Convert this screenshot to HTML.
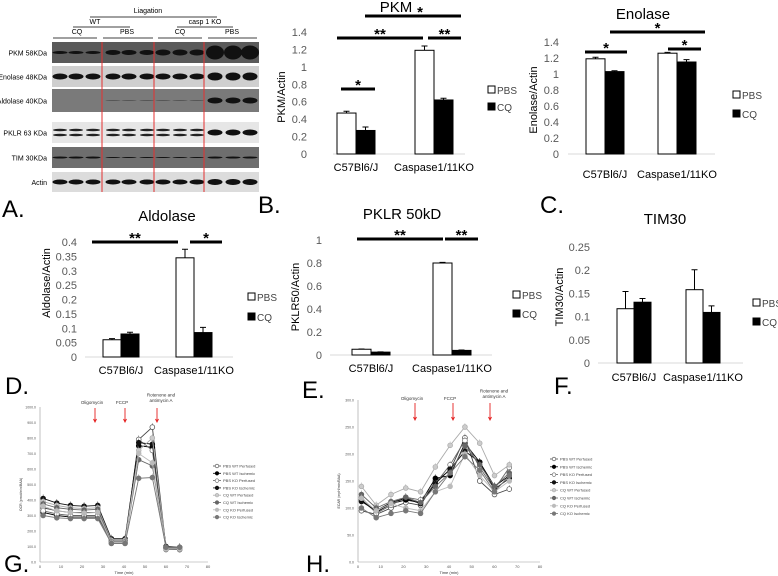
<!DOCTYPE html>
<html><head><meta charset="utf-8"><style>
html,body{margin:0;padding:0;background:#fff;}
svg{display:block;font-family:"Liberation Sans",sans-serif;}
</style></head><body>
<svg id="fig" width="778" height="576" viewBox="0 0 778 576" xmlns="http://www.w3.org/2000/svg">
<g id="blot"></g>
<g id="bars"></g>
<g id="lines"></g>
<g font-size="24" fill="#000">
<text x="2" y="217">A.</text>
<text x="258" y="213">B.</text>
<text x="540" y="213">C.</text>
<text x="5" y="394">D.</text>
<text x="302" y="398">E.</text>
<text x="554" y="394">F.</text>
<text x="4" y="572">G.</text>
<text x="306" y="572">H.</text>
</g>
</svg>
<script>
const NS="http://www.w3.org/2000/svg";
function mk(parent,tag,attrs,txt){const e=document.createElementNS(NS,tag);for(const k in attrs)e.setAttribute(k,attrs[k]);if(txt!==undefined)e.textContent=txt;parent.appendChild(e);return e;}

// ---------- Bar chart data ----------
const barCategories=["C57Bl6/J","Caspase1/11KO"];
const legendLabels=["PBS","CQ"];
const pkmPBS=[0.47,1.19], pkmCQ=[0.27,0.62], pkmErrPBS=[0.02,0.05], pkmErrCQ=[0.04,0.02];
const pkmTicks=["0","0.2","0.4","0.6","0.8","1","1.2","1.4"];
const enoPBS=[1.19,1.26], enoCQ=[1.03,1.15], enoErrPBS=[0.02,0.01], enoErrCQ=[0.01,0.03];
const enoTicks=["0","0.2","0.4","0.6","0.8","1","1.2","1.4"];
const aldPBS=[0.06,0.345], aldCQ=[0.08,0.085], aldErrPBS=[0.004,0.03], aldErrCQ=[0.006,0.018];
const aldTicks=["0","0.05","0.1","0.15","0.2","0.25","0.3","0.35","0.4"];
const pklrPBS=[0.05,0.8], pklrCQ=[0.025,0.04], pklrErrPBS=[0.002,0.005], pklrErrCQ=[0.002,0.004];
const pklrTicks=["0","0.2","0.4","0.6","0.8","1"];
const timPBS=[0.117,0.158], timCQ=[0.131,0.109], timErrPBS=[0.037,0.043], timErrCQ=[0.008,0.014];
const timTicks=["0","0.05","0.1","0.15","0.2","0.25"];

const barCfg=[
 {name:"pkm",title:"PKM",ytitle:"PKM/Actin",pbs:pkmPBS,cq:pkmCQ,ep:pkmErrPBS,ec:pkmErrCQ,ticks:pkmTicks,max:1.4,
  y0:154,y1:32,ax0:333,ax1:465,lblX:307,ytX:285,ytY:97,bx:[337,415],bw:19,titleX:396,titleY:12,catY:171,legX:488,legY:[90,107],
  sig:[[365,461,16,"*",7],[337,423,38,"**",0],[428,461,38,"**",0],[341,375,89,"*",0]]},
 {name:"enolase",title:"Enolase",ytitle:"Enolase/Actin",pbs:enoPBS,cq:enoCQ,ep:enoErrPBS,ec:enoErrCQ,ticks:enoTicks,max:1.4,
  y0:154,y1:42,ax0:568,ax1:715,lblX:559,ytX:537,ytY:100,bx:[586,658],bw:19,titleX:643,titleY:19,catY:178,legX:733,legY:[95,114],
  sig:[[610,705,32,"*",0],[585,627,52,"*",0],[668,701,49,"*",0]]},
 {name:"aldolase",title:"Aldolase",ytitle:"Aldolase/Actin",pbs:aldPBS,cq:aldCQ,ep:aldErrPBS,ec:aldErrCQ,ticks:aldTicks,max:0.4,
  y0:357,y1:242,ax0:85,ax1:233,lblX:77,ytX:50,ytY:283,bx:[103,176],bw:18,titleX:167,titleY:221,catY:374,legX:248,legY:[297,317],
  sig:[[92,178,242,"**",0],[190,222,242,"*",0]]},
 {name:"pklr",title:"PKLR 50kD",ytitle:"PKLR50/Actin",pbs:pklrPBS,cq:pklrCQ,ep:pklrErrPBS,ec:pklrErrCQ,ticks:pklrTicks,max:1,
  y0:355,y1:240,ax0:330,ax1:492,lblX:322,ytX:299,ytY:297,bx:[352,433],bw:19,titleX:402,titleY:219,catY:372,legX:513,legY:[295,314],
  sig:[[357,443,239,"**",0],[445,478,239,"**",0]]},
 {name:"tim30",title:"TIM30",ytitle:"TIM30/Actin",pbs:timPBS,cq:timCQ,ep:timErrPBS,ec:timErrCQ,ticks:timTicks,max:0.25,
  y0:363,y1:247,ax0:598,ax1:743,lblX:590,ytX:563,ytY:297,bx:[617,686],bw:17,titleX:665,titleY:224,catY:381,legX:753,legY:[303,322],
  sig:[]}
];

const barsG=document.getElementById("bars");
barCfg.forEach(c=>{
 const g=mk(barsG,"g",{});
 
 
 const y=v=>c.y0-(v/c.max)*(c.y0-c.y1);
 const t=mk(g,"text",{x:c.titleX,y:c.titleY,"font-size":15,"text-anchor":"middle",fill:"#000"},c.title);
 
 
 c.ticks.forEach((lab,i)=>{
  const v=c.max*i/(c.ticks.length-1);
  const tl=mk(g,"text",{x:c.lblX,y:y(v)+4,"font-size":11,"text-anchor":"end",fill:"#595959"},lab);
  
  
 });
 const yt=mk(g,"text",{x:c.ytX,y:c.ytY,"font-size":11,"text-anchor":"middle",fill:"#000",transform:`rotate(-90 ${c.ytX} ${c.ytY})`},c.ytitle);
 
 
 const ax=mk(g,"line",{x1:c.ax0,x2:c.ax1,y1:c.y0,y2:c.y0,stroke:"#d9d9d9","stroke-width":1});
 
 
 barCategories.forEach((cat,i)=>{
  const x=c.bx[i];
  [[c.pbs[i],c.ep[i],"#fff",0],[c.cq[i],c.ec[i],"#000",1]].forEach(([v,e,fill,k])=>{
   const bx=x+k*c.bw;
   const r=mk(g,"rect",{x:bx,y:y(v),width:c.bw,height:c.y0-y(v),fill:fill,stroke:"#000","stroke-width":1});
   
   
   const cx=bx+c.bw/2;
   const eb=mk(g,"path",{d:`M${cx},${y(v)}V${y(v+e)}M${cx-3},${y(v+e)}H${cx+3}`,stroke:"#000","stroke-width":1,fill:"none"});
   
   
  });
  const cl=mk(g,"text",{x:x+c.bw,y:c.catY,"font-size":11,"text-anchor":"middle",fill:"#000"},cat);
  
  
 });
 legendLabels.forEach((lab,k)=>{
  const ly=c.legY[k];
  const sq=mk(g,"rect",{x:c.legX,y:ly-4,width:7,height:7,fill:k?"#000":"#fff",stroke:"#000","stroke-width":1});
  
  
  const lt=mk(g,"text",{x:c.legX+9,y:ly+4,"font-size":10,fill:"#444"},lab);
  
  
 });
 c.sig.forEach(([x1,x2,sy,s,dx])=>{
  const sl=mk(g,"line",{x1:x1,x2:x2,y1:sy,y2:sy,stroke:"#000","stroke-width":3});
  
  
  const st=mk(g,"text",{x:(x1+x2)/2+dx,y:sy+1,"font-size":15,"font-weight":"bold","text-anchor":"middle",fill:"#000"},s);
  
  
 });
});

// ---------- Western blot ----------
const blotRows=["PKM 58KDa","Enolase 48KDa","Aldolase 40KDa","PKLR 63 KDa","TIM 30KDa","Actin"];
const blotG=document.getElementById("blot");
const rowsY=[[42,63,"#5a5a5a"],[66,87,"#cfcfcf"],[89,112,"#7a7a7a"],[122,143,"#e6e6e6"],[147,168,"#6e6e6e"],[172,192,"#dcdcdc"]];
const laneX=[60,76,93,113,129,147,163,180,197,215,233,250];
const bandH=[[3,3,3,5,5,5,6,6,6,14,14,14],[6,6,6,6,6,6,6,6,6,8,8,8],[0,0,0,1,1,1,1,1,1,6,6,6],[3,3,3,4,4,4,4,4,4,6,6,6],[2,2,2,1,1,1,1,1,1,2,2,2],[5,5,5,5,5,5,5,5,5,6,6,6]];
rowsY.forEach(([a,b,bg],i)=>{
 const r=mk(blotG,"rect",{x:52,y:a,width:207,height:b-a,fill:bg});
 
 
 const l=mk(blotG,"text",{x:47,y:(a+b)/2+3,"font-size":7,"text-anchor":"end",fill:"#000"},blotRows[i]);
 
 
 laneX.forEach((x,j)=>{
  const h=bandH[i][j]; if(!h)return;
  const cy=(a+b)/2;
  if(i===3&&j<9){
   [-2.5,2.5].forEach(d=>{const e=mk(blotG,"ellipse",{cx:x,cy:cy+d,rx:7,ry:1.3,fill:"#222"});});
  } else {
   const e=mk(blotG,"ellipse",{cx:x,cy:cy,rx:h>10?9:7.5,ry:h/2,fill:i===2&&h<3?"#555":"#111"});
   
   
  }
 });
});
[102,154,204].forEach(x=>{const l=mk(blotG,"line",{x1:x,x2:x,y1:42,y2:192,stroke:"#e53030","stroke-width":1});});
const hdr=[["Liagation",148,13,90,217,17],["WT",95,24,73,130,27],["casp 1 KO",205,24,177,233,27],["CQ",77,34,53,97,38],["PBS",127,34,103,153,38],["CQ",180,34,158,202,38],["PBS",232,34,208,257,38]];
hdr.forEach(([t,tx,ty,x1,x2,ly])=>{
 const tt=mk(blotG,"text",{x:tx,y:ty,"font-size":7,"text-anchor":"middle",fill:"#000"},t);
 
 
 const ll=mk(blotG,"line",{x1:x1,x2:x2,y1:ly,y2:ly,stroke:"#000","stroke-width":0.7});
 
 
});

// ---------- Line chart data ----------
const timePoints=[1.5,8,14.5,21,27.5,34,40.5,47,53.5,60,66.5];
const seriesNames=["PBS WT Perfused","PBS WT Ischemic","PBS KO Perfused","PBS KO Ischemic","CQ WT Perfused","CQ WT Ischemic","CQ KO Perfused","CQ KO Ischemic"];
const ocrPbsWtPerf=[350,330,320,320,320,130,130,790,870,90,80];
const ocrPbsWtIsch=[320,300,290,290,290,140,140,750,740,90,90];
const ocrPbsKoPerf=[330,310,300,300,300,120,120,790,720,80,80];
const ocrPbsKoIsch=[410,380,365,360,365,150,150,770,760,100,95];
const ocrCqWtPerf=[390,365,350,345,350,140,140,720,800,90,90];
const ocrCqWtIsch=[375,350,340,335,340,130,130,660,620,90,90];
const ocrCqKoPerf=[360,330,320,315,320,125,125,700,640,85,85];
const ocrCqKoIsch=[300,285,280,280,280,120,120,540,545,95,95];
const ecarPbsWtPerf=[95,88,100,110,105,150,170,230,150,125,135];
const ecarPbsWtIsch=[115,92,108,115,110,155,160,220,185,140,160];
const ecarPbsKoPerf=[120,90,105,120,115,145,180,225,175,135,175];
const ecarPbsKoIsch=[112,95,110,118,108,145,172,205,185,135,155];
const ecarCqWtPerf=[140,105,125,137,130,176,216,250,220,160,180];
const ecarCqWtIsch=[125,100,112,120,110,140,165,215,180,140,165];
const ecarCqKoPerf=[118,95,108,100,95,130,140,200,160,130,150];
const ecarCqKoIsch=[100,82,90,95,90,130,165,195,170,130,160];
const ocrTicks=["0.0","100.0","200.0","300.0","400.0","500.0","600.0","700.0","800.0","900.0","1000.0"];
const ecarTicks=["0.0","50.0","100.0","150.0","200.0","250.0","300.0"];
const timeTicks=["0","10","20","30","40","50","60","70","80"];

const styles=[["#444","#fff"],["#000","#000"],["#666","#fff"],["#111","#111"],["#aaa","#ccc"],["#666","#666"],["#bbb","#bbb"],["#777","#777"]];
const lineCfg=[
 {name:"ocr",data:[ocrPbsWtPerf,ocrPbsWtIsch,ocrPbsKoPerf,ocrPbsKoIsch,ocrCqWtPerf,ocrCqWtIsch,ocrCqKoPerf,ocrCqKoIsch],ticks:ocrTicks,max:1000,
  x0:40,x1:208,y0:562,y1:407,ytitle:"OCR (pmol/min/BAA)",ytX:22,arrows:[[95,"Oligomycin"],[125,"FCCP"],[157,"Rotenone and|antimycin A"]],arrowY:[408,422],labY:404,legX:213,legY:466,legStep:7.3},
 {name:"ecar",data:[ecarPbsWtPerf,ecarPbsWtIsch,ecarPbsKoPerf,ecarPbsKoIsch,ecarCqWtPerf,ecarCqWtIsch,ecarCqKoPerf,ecarCqKoIsch],ticks:ecarTicks,max:300,
  x0:358,x1:540,y0:562,y1:400,ytitle:"ECAR (mpH/min/BAA)",ytX:340,arrows:[[415,"Oligomycin"],[453,"FCCP"],[490,"Rotenone and|antimycin A"]],arrowY:[403,420],labY:400,legX:550,legY:459,legStep:7.8}
];
const linesG=document.getElementById("lines");
lineCfg.forEach(c=>{
 const g=mk(linesG,"g",{});
 
 
 const X=t=>c.x0+t/80*(c.x1-c.x0);
 const Y=v=>c.y0-v/c.max*(c.y0-c.y1);
 const ya=mk(g,"line",{x1:c.x0,x2:c.x0,y1:c.y1,y2:c.y0,stroke:"#999","stroke-width":0.6});
 
 
 const xa=mk(g,"line",{x1:c.x0,x2:c.x1,y1:c.y0,y2:c.y0,stroke:"#999","stroke-width":0.6});
 
 
 c.ticks.forEach((l,i)=>{
  const v=c.max*i/(c.ticks.length-1);
  const tt=mk(g,"text",{x:c.x0-4,y:Y(v)+1.5,"font-size":3.5,"text-anchor":"end",fill:"#555"},l);
  
  
 });
 timeTicks.forEach(l=>{
  const tt=mk(g,"text",{x:X(+l),y:c.y0+6,"font-size":4,"text-anchor":"middle",fill:"#555"},l);
  
  
 });
 const xt=mk(g,"text",{x:(c.x0+c.x1)/2,y:c.y0+12,"font-size":4,"text-anchor":"middle",fill:"#333"},"Time (min)");
 
 
 const yc=(c.y0+c.y1)/2+10;
 const yt=mk(g,"text",{x:c.ytX,y:yc,"font-size":3.5,"text-anchor":"middle",fill:"#333",transform:`rotate(-90 ${c.ytX} ${yc})`},c.ytitle);
 
 
 c.arrows.forEach(([x,l])=>{
  const a=mk(g,"path",{d:`M${x},${c.arrowY[0]}V${c.arrowY[1]}M${x-1.5},${c.arrowY[1]-3}L${x},${c.arrowY[1]}L${x+1.5},${c.arrowY[1]-3}`,stroke:"#e52020","stroke-width":0.9,fill:"none"});
  
  
  const parts=l.split("|");
  parts.forEach((p,k)=>{
   const tt=mk(g,"text",{x:x+(parts.length>1?4:-3),y:c.labY-(parts.length-1-k)*5.5-(parts.length>1?2:0),"font-size":4.5,"text-anchor":"middle",fill:"#333"},p);
   
   
  });
 });
 c.data.forEach((vals,s)=>{
  const [st,fill]=styles[s];
  const pl=mk(g,"polyline",{points:vals.map((v,i)=>X(timePoints[i])+","+Y(v)).join(" "),fill:"none",stroke:st,"stroke-width":0.9});
  
  
  vals.forEach((v,i)=>{
   const eb=mk(g,"line",{x1:X(timePoints[i]),x2:X(timePoints[i]),y1:Y(v),y2:Y(v)-4,stroke:st,"stroke-width":0.4});
   
   
   const p=mk(g,"circle",{cx:X(timePoints[i]),cy:Y(v),r:2.4,fill:fill,stroke:st,"stroke-width":0.7});
   
   
  });
  const ly=c.legY+s*c.legStep;
  const ll=mk(g,"line",{x1:c.legX,x2:c.legX+8,y1:ly,y2:ly,stroke:st,"stroke-width":0.8});
  
  
  const lm=mk(g,"circle",{cx:c.legX+4,cy:ly,r:1.8,fill:fill,stroke:st,"stroke-width":0.6});
  
  
  const lt=mk(g,"text",{x:c.legX+10,y:ly+1.5,"font-size":4,fill:"#444"},seriesNames[s]);
  
  
 });
});
</script>
</body></html>
